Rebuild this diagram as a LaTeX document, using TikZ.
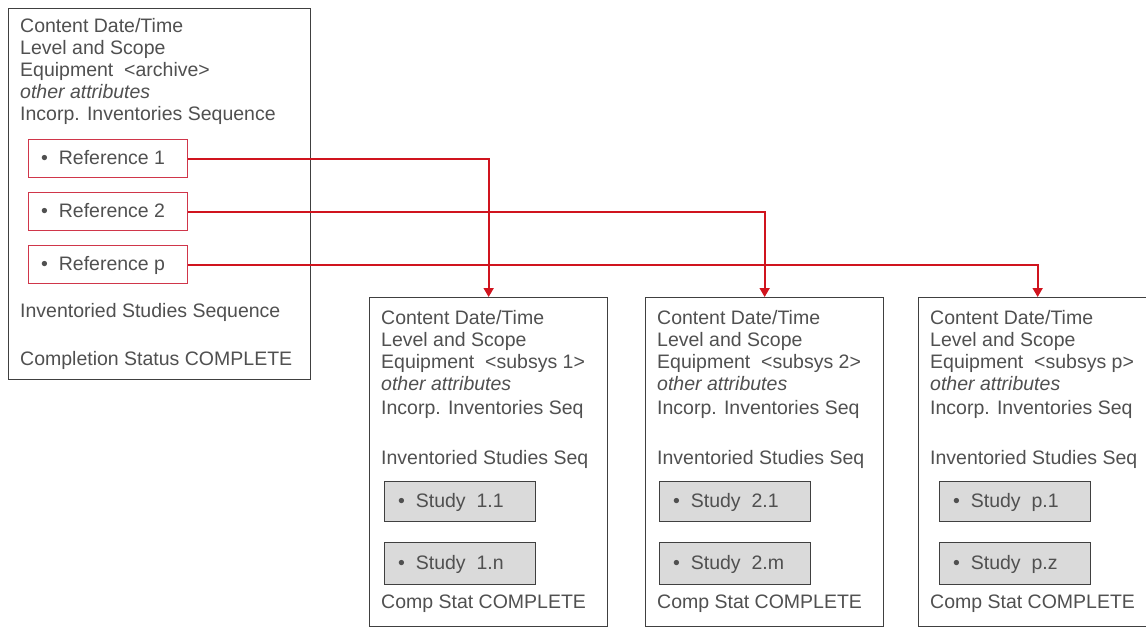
\documentclass[tikz,border=0pt]{standalone}
\usepackage{fontspec}
\setmainfont{Liberation Sans}
\usetikzlibrary{arrows.meta}
\definecolor{txtgray}{HTML}{505050}
\definecolor{framegray}{HTML}{404040}
\definecolor{refred}{HTML}{D0364A}
\definecolor{linkred}{HTML}{D0141E}
\definecolor{studyfill}{HTML}{DADADA}
\begin{document}
\begin{tikzpicture}[x=1pt,y=-1pt,
  txt/.style={anchor=base west, inner sep=0pt, text=txtgray, font=\fontsize{19.5}{22}\selectfont},
  frame/.style={draw=framegray, line width=1.3pt, fill=white, inner sep=0pt, anchor=north west},
  refbox/.style={draw=refred, line width=1.3pt, inner sep=0pt, anchor=north west,
    minimum width=159pt, minimum height=38pt},
  studybox/.style={draw=framegray, line width=1.3pt, fill=studyfill, inner sep=0pt, anchor=north west,
    minimum width=151pt},
  link/.style={draw=linkred, line width=1.7pt, -{Triangle[length=9pt,width=10pt]}}]
\useasboundingbox (0,0) rectangle (1146,627);

% archive inventory
\node[frame, minimum width=302pt, minimum height=371pt] (archive) at (8,8) {};
\node[txt] (a1) at (20,32) {Content Date/Time};
\node[txt] (a2) at (20,54) {Level and Scope};
\node[txt] (a3) at (20,76) {Equipment\ \ {<}archive{>}};
\node[txt] (a4) at (20,98) {\itshape other attributes};
\node[txt] (a5) at (20,120) {Incorp. Inventories Sequence};
\node[refbox] (ref1) at (28,139) {};
\node[refbox] (ref2) at (28,192) {};
\node[refbox] (ref3) at (28,245) {};
\node[txt] (ref1t) at (41,164) {\textbullet\ \ Reference 1};
\node[txt] (ref2t) at (41,217) {\textbullet\ \ Reference 2};
\node[txt] (ref3t) at (41,270) {\textbullet\ \ Reference p};
\node[txt] (a6) at (20,317) {Inventoried Studies Sequence};
\node[txt] (a7) at (20,365) {Completion Status COMPLETE};

% subsystem inventories
\foreach \i/\x/\sx/\eq/\sa/\sb in {1/369/15/1/1.1/1.n, 2/645/14/2/2.1/2.m, 3/918/21/p/p.1/p.z} {
  \node[frame, minimum width=238pt, minimum height=329pt] (sub\i) at (\x,297) {};
  \node[txt] (sub\i-1) at (\x+12,324) {Content Date/Time};
  \node[txt] (sub\i-2) at (\x+12,346) {Level and Scope};
  \node[txt] (sub\i-3) at (\x+12,368) {Equipment\ \ {<}subsys \eq{>}};
  \node[txt] (sub\i-4) at (\x+12,390) {\itshape other attributes};
  \node[txt] (sub\i-5) at (\x+12,414) {Incorp. Inventories Seq};
  \node[txt] (sub\i-6) at (\x+12,464) {Inventoried Studies Seq};
  \node[studybox, minimum height=40pt] (st\i a) at (\x+\sx,481) {};
  \node[studybox, minimum height=42pt] (st\i b) at (\x+\sx,542) {};
  \node[txt] (st\i a-t) at (\x+\sx+14,507) {\textbullet\ \ Study\ \ \sa};
  \node[txt] (st\i b-t) at (\x+\sx+14,569) {\textbullet\ \ Study\ \ \sb};
  \node[txt] (sub\i-7) at (\x+12,608) {Comp Stat COMPLETE};
}

% references to the subsystem inventories
\draw[link] (ref1.east) -| (sub1.north);
\draw[link] (ref2.east) -| (sub2.north);
\draw[link] (ref3.east) -| (sub3.north);
\end{tikzpicture}
\end{document}
